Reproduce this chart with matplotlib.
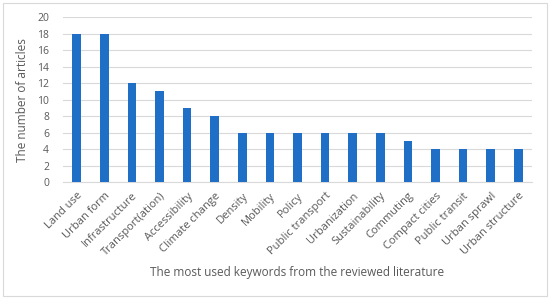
import matplotlib.pyplot as plt
from matplotlib.patches import Rectangle

keywords = [
    "Land use", "Urban form", "Infrastructure", "Transport(ation)", "Accessibility",
    "Climate change", "Density", "Mobility", "Policy", "Public transport",
    "Urbanization", "Sustainability", "Commuting", "Compact cities",
    "Public transit", "Urban sprawl", "Urban structure",
]
articles = [18, 18, 12, 11, 9, 8, 6, 6, 6, 6, 6, 6, 5, 4, 4, 4, 4]
y_ticks = list(range(0, 21, 2))

plt.rcParams["font.family"] = ["Open Sans", "DejaVu Sans"]
text_color = "#595959"

fig = plt.figure(figsize=(5.5, 2.99), dpi=100)
fig.patches.append(Rectangle((0.006, 0.01), 0.988, 0.98, transform=fig.transFigure,
                             fill=False, edgecolor="#d9d9d9", linewidth=0.8))
ax = fig.add_axes([0.1145, 0.391, 0.853, 0.552])

x = range(len(keywords))
ax.bar(x, articles, width=0.31, color="#1f6fc6", zorder=3)

ax.set_xlim(-0.5, len(keywords) - 0.5)
ax.set_ylim(0, 20)
ax.set_yticks(y_ticks)
ax.set_xticks(list(x))
ax.set_xticklabels(keywords, rotation=45, ha="right", rotation_mode="anchor",
                   fontsize=8, color=text_color)
ax.tick_params(axis="y", labelsize=7.5, colors=text_color, length=0, pad=10)
ax.tick_params(axis="x", length=0, pad=6)
ax.grid(axis="y", color="#d9d9d9", linewidth=0.8, zorder=0)
for side in ["top", "right", "left"]:
    ax.spines[side].set_visible(False)
ax.spines["bottom"].set_color("#d9d9d9")

ax.set_ylabel("The number of articles", fontsize=8.5, color=text_color, labelpad=6)
fig.text(0.54, 0.09, "The most used keywords from the reviewed literature",
         ha="center", va="center", fontsize=8.5, color=text_color)

fig.savefig("out.png", dpi=100)
